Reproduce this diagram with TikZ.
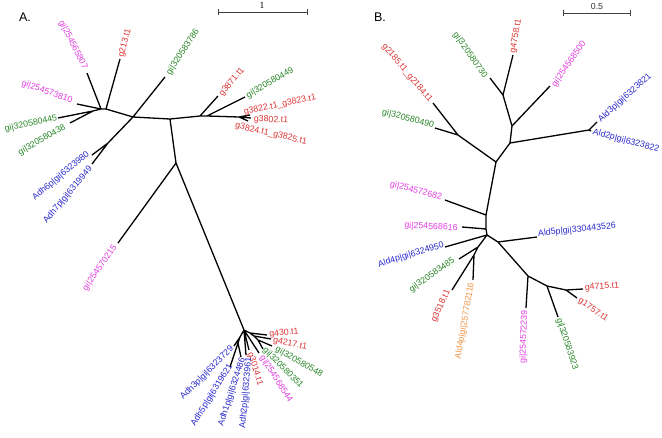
\documentclass[tikz,border=0pt]{standalone}
\usepackage{fontspec}
\setmainfont{Liberation Sans}
\newfontfamily\serifA{Liberation Serif}
\definecolor{cred}{RGB}{222,52,52}
\definecolor{cmag}{RGB}{226,62,226}
\definecolor{cgrn}{RGB}{40,135,40}
\definecolor{cblu}{RGB}{40,40,205}
\definecolor{corg}{RGB}{240,150,70}
\tikzset{
  edge/.style={line width=1.3pt, black},
  lbl/.style={font=\fontsize{8.8}{10}\selectfont, inner sep=0pt},
  scalebar/.style={line width=1pt, black!75},
  panel/.style={font=\fontsize{12.5}{14}\selectfont, inner sep=0pt}
}
\begin{document}
\begin{tikzpicture}[x=1pt,y=-1pt]
\useasboundingbox[fill=white] (0,0) rectangle (662,437);

% ---------- Panel A ----------
\node[panel] (pA) at (25,17) {A.};
\coordinate (sA1) at (218,12); \coordinate (sA2) at (307,12);
\draw[scalebar] (sA1) -- (sA2) (218,9) -- (218,15) (307,9) -- (307,15);
\node[font=\serifA\fontsize{9.5}{10}\selectfont, inner sep=0pt] (sAl) at (262,5) {1};

\coordinate (a0) at (133,117);
\coordinate (aR) at (170,119);
\coordinate (aR2) at (200,116);
\coordinate (aR3) at (207,116);
\coordinate (aR4) at (239,117);
\coordinate (aL1) at (106,109);
\coordinate (aL2) at (101,109);
\coordinate (aL3) at (93,111);
\coordinate (aB) at (108,143);
\coordinate (aD) at (176,163);
\coordinate (aE) at (244,330);
\coordinate (aH1) at (250,333);
\coordinate (aH2) at (254,336);
\coordinate (aH3) at (258,340);
\coordinate (aK) at (240,337);
\coordinate (aK2) at (238,343);

\coordinate (l1) at (87,73);
\coordinate (l2) at (120,59);
\coordinate (l3) at (165,77);
\coordinate (l4) at (218,96);
\coordinate (l5) at (245,97);
\coordinate (l6) at (250,115);
\coordinate (l7) at (251,118);
\coordinate (l8) at (248,121);
\coordinate (l9) at (77,104);
\coordinate (l10) at (58,118);
\coordinate (l11) at (70,123);
\coordinate (l12) at (92,155);
\coordinate (l13) at (92,164);
\coordinate (l14) at (118,243);
\coordinate (l15) at (267,335);
\coordinate (l16) at (271,339);
\coordinate (l17) at (272,346);
\coordinate (l18) at (263,349);
\coordinate (l19) at (259,353);
\coordinate (l20) at (249,350);
\coordinate (l21) at (246,355);
\coordinate (l22) at (241,357);
\coordinate (l23) at (230,367);
\coordinate (l24) at (234,346);

\draw[edge] (a0) -- (aR) (aR) -- (aR2) (aR2) -- (l4) (aR2) -- (aR3) (aR3) -- (l5)
  (aR3) -- (aR4) (aR4) -- (l6) (aR4) -- (l7) (aR4) -- (l8)
  (a0) -- (l3) (a0) -- (aL1) (aL1) -- (l2) (aL1) -- (aL2) (aL2) -- (l1) (aL2) -- (l9)
  (aL2) -- (aL3) (aL3) -- (l10) (aL3) -- (l11)
  (a0) -- (aB) (aB) -- (l12) (aB) -- (l13)
  (aR) -- (aD) (aD) -- (l14) (aD) -- (aE)
  (aE) -- (aH1) (aH1) -- (l15) (aH1) -- (aH2) (aH2) -- (l16) (aH2) -- (aH3)
  (aH3) -- (l17) (aH3) -- (l18) (aE) -- (l19) (aE) -- (l20) (aE) -- (l21)
  (aE) -- (aK) (aK) -- (l24) (aK) -- (aK2) (aK2) -- (l22) (aK2) -- (l23);

\node[lbl, cmag, rotate=-63] (t1) at (73,45) {gi|254565807};
\node[lbl, cred, rotate=75] (t2) at (125,43) {g213.t1};
\node[lbl, cgrn, rotate=57] (t3) at (183,52) {gi|320583786};
\node[lbl, cred, rotate=50] (t4) at (232,82) {g3871.t1};
\node[lbl, cgrn, rotate=30] (t5) at (270,83) {gi|320580449};
\node[lbl, cred, rotate=12] (t6) at (280,105) {g3822.t1\_g3823.t1};
\node[lbl, cred, rotate=-3] (t7) at (271,120) {g3802.t1};
\node[lbl, cred, rotate=-13] (t8) at (271,134) {g3824.t1\_g3825.t1};
\node[lbl, cmag, rotate=-20] (t9) at (47,92) {gi|254573810};
\node[lbl, cgrn, rotate=12] (t10) at (31,124) {gi|320580445};
\node[lbl, cgrn, rotate=30] (t11) at (42,140) {gi|320580438};
\node[lbl, cblu, rotate=40] (t12) at (61,176) {Adh6p|gi|6323980};
\node[lbl, cblu, rotate=50] (t13) at (68,195) {Adh7p|gi|6319949};
\node[lbl, cmag, rotate=55] (t14) at (100,268) {gi|254570215};
\node[lbl, cred, rotate=5] (t15) at (284,333) {g430.t1};
\node[lbl, cred, rotate=-12] (t16) at (290,344) {g4217.t1};
\node[lbl, cgrn, rotate=-30] (t17) at (299,362) {gi|320580548};
\node[lbl, cgrn, rotate=-45] (t18) at (283,368) {gi|320580351};
\node[lbl, cmag, rotate=-57] (t19) at (276,379) {gi|254568544};
\node[lbl, cred, rotate=-73] (t20) at (255,369) {g3014.t1};
\node[lbl, cblu, rotate=85] (t21) at (246,393) {Adh2p|gi|6323961};
\node[lbl, cblu, rotate=72] (t22) at (232,392) {Adh1p|gi|6324486};
\node[lbl, cblu, rotate=58] (t23) at (212,395) {Adh5p|gi|6319621};
\node[lbl, cblu, rotate=45] (t24) at (207,373) {Adh3p|gi|6323729};

% ---------- Panel B ----------
\node[panel] (pB) at (380,17) {B.};
\coordinate (sB1) at (563,13); \coordinate (sB2) at (630,13);
\draw[scalebar] (sB1) -- (sB2) (563,10) -- (563,16) (630,10) -- (630,16);
\node[font=\fontsize{8.8}{10}\selectfont, inner sep=0pt, black!80] (sBl) at (597,6) {0.5};

\coordinate (bP) at (496,162);
\coordinate (bQ) at (510,143);
\coordinate (bS) at (512,126);
\coordinate (bT) at (503,95);
\coordinate (bA) at (589,130);
\coordinate (bU) at (458,135);
\coordinate (bV) at (486,215);
\coordinate (bV2) at (486,229);
\coordinate (bW) at (487,235);
\coordinate (bX) at (478,247);
\coordinate (bY) at (474,255);
\coordinate (bZ) at (498,242);
\coordinate (bM) at (528,276);
\coordinate (bN) at (547,286);
\coordinate (bO) at (566,290);

\coordinate (l25) at (513,55);
\coordinate (l26) at (490,78);
\coordinate (l27) at (550,86);
\coordinate (l28) at (433,103);
\coordinate (l29) at (435,128);
\coordinate (l30) at (597,122);
\coordinate (l31) at (591,131);
\coordinate (l32) at (445,200);
\coordinate (l33) at (462,227);
\coordinate (l34) at (445,247);
\coordinate (l35) at (459,259);
\coordinate (l36) at (452,290);
\coordinate (l37) at (473,280);
\coordinate (l38) at (537,237);
\coordinate (l39) at (526,308);
\coordinate (l40) at (558,317);
\coordinate (l41) at (583,289);
\coordinate (l42) at (577,298);

\draw[edge] (bP) -- (bQ) (bQ) -- (bA) (bA) -- (l30) (bA) -- (l31)
  (bQ) -- (bS) (bS) -- (l27) (bS) -- (bT) (bT) -- (l25) (bT) -- (l26)
  (bP) -- (bU) (bU) -- (l28) (bU) -- (l29)
  (bP) -- (bV) (bV) -- (l32) (bV) -- (bV2) (bV2) -- (l33) (bV2) -- (bW)
  (bW) -- (l34) (bW) -- (bX) (bX) -- (l35) (bX) -- (bY) (bY) -- (l36) (bY) -- (l37)
  (bW) -- (bZ) (bZ) -- (l38) (bZ) -- (bM) (bM) -- (l39) (bM) -- (bN)
  (bN) -- (l40) (bN) -- (bO) (bO) -- (l41) (bO) -- (l42);

\node[lbl, cred, rotate=80] (t25) at (516,36) {g4758.t1};
\node[lbl, cgrn, rotate=-55] (t26) at (470,55) {gi|320580730};
\node[lbl, cmag, rotate=55] (t27) at (569,64) {gi|254568500};
\node[lbl, cred, rotate=-50] (t28) at (407,73) {g2185.t1\_g2184.t1};
\node[lbl, cgrn, rotate=-15] (t29) at (408,119) {gi|320580490};
\node[lbl, cblu, rotate=42] (t30) at (625,98) {Ald3p|gi|6323821};
\node[lbl, cblu, rotate=-15] (t31) at (626,141) {Ald2p|gi|6323822};
\node[lbl, cmag, rotate=-15] (t32) at (416,191) {gi|254572682};
\node[lbl, cmag, rotate=-3] (t33) at (431,227) {gi|254568616};
\node[lbl, cblu, rotate=17] (t34) at (411,255) {Ald4p|gi|6324950};
\node[lbl, cgrn, rotate=35] (t35) at (432,275) {gi|320583485};
\node[lbl, cred, rotate=65] (t36) at (441,306) {g3518.t1};
\node[lbl, corg, rotate=80] (t37) at (465,321) {Ald4p|gi|257782116};
\node[lbl, cblu, rotate=6] (t38) at (577,230) {Ald5p|gi|330443526};
\node[lbl, cmag, rotate=88] (t39) at (524,337) {gi|254572239};
\node[lbl, cgrn, rotate=-72] (t40) at (567,344) {gi|320583923};
\node[lbl, cred, rotate=4] (t41) at (602,287) {g4715.t1};
\node[lbl, cred, rotate=-35] (t42) at (593,310) {g1757.t1};
\end{tikzpicture}
\end{document}
